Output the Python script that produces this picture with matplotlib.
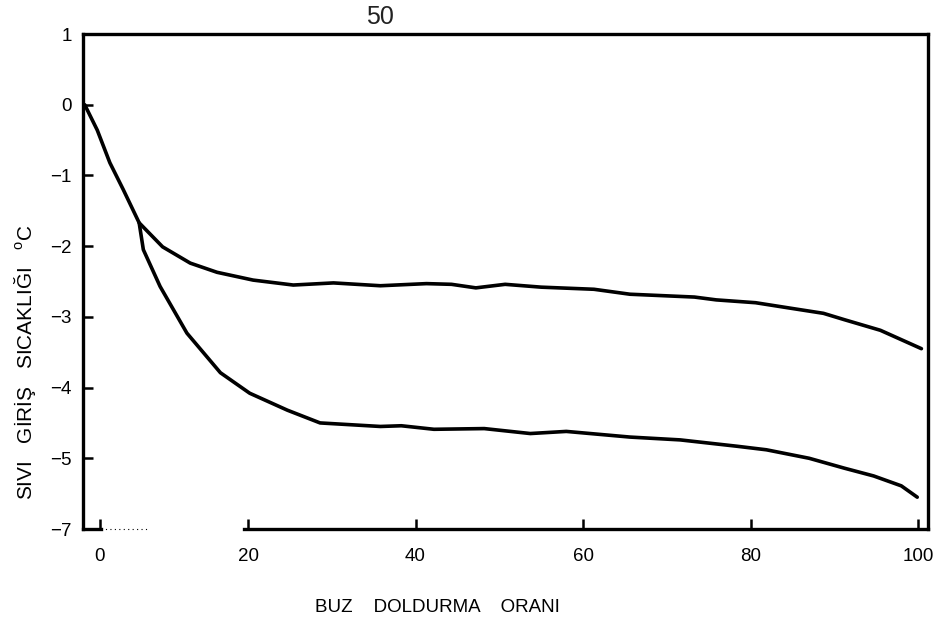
import matplotlib
matplotlib.use("Agg")
import matplotlib.pyplot as plt

plt.rcParams['font.family'] = ['Liberation Sans', 'DejaVu Sans']
plt.rcParams['mathtext.fontset'] = 'custom'
plt.rcParams['mathtext.rm'] = 'Liberation Sans'

# Upper curve (shared start, then levelling near -2.5 .. -3.45)
upper_x = [0.5, 2.0, 3.5, 5.1, 7.0, 9.8, 13.1, 16.3, 20.6, 25.4, 30.2, 35.8,
           41.3, 44.3, 47.2, 50.7, 55.0, 61.3, 65.6, 73.3, 75.9, 80.6, 84.9,
           88.7, 91.2, 95.5, 100.4]
upper_y = [0.0, -0.36, -0.82, -1.20, -1.67, -2.01, -2.24, -2.37, -2.48, -2.55,
           -2.52, -2.56, -2.53, -2.54, -2.59, -2.54, -2.58, -2.61, -2.68, -2.72,
           -2.76, -2.80, -2.88, -2.95, -3.04, -3.19, -3.45]

# Lower curve (branches off at the crossing point)
lower_x = [7.0, 7.5, 9.5, 12.7, 16.7, 20.2, 24.7, 28.6, 35.8, 38.3,
           42.2, 48.2, 53.7, 58.0, 65.6, 71.6, 78.4, 81.9, 87.0, 91.2, 94.7,
           98.0, 99.9]
lower_y = [-1.67, -2.05, -2.57, -3.23, -3.79, -4.08, -4.32, -4.50, -4.55, -4.54,
           -4.59, -4.58, -4.65, -4.62, -4.70, -4.74, -4.83, -4.88, -5.00, -5.14,
           -5.25, -5.39, -5.55]

x_tick_pos = [2.3, 20, 40, 60, 80, 100]
x_tick_labels = ['0', '20', '40', '60', '80', '100']
y_tick_pos = [1, 0, -1, -2, -3, -4, -5, -6]
y_tick_labels = ['1', '0', '\u22121', '\u22122', '\u22123', '\u22124', '\u22125', '\u22127']

xmin, xmax = 0.3, 101.2
ymin, ymax = -6.0, 1.0

fig = plt.figure(figsize=(9.49, 6.25), dpi=100)
ax = fig.add_axes([0.0875, 0.1536, 0.8905, 0.792])

ax.plot(upper_x, upper_y, color='black', lw=2.6, solid_capstyle='round',
        solid_joinstyle='round')
ax.plot(lower_x, lower_y, color='black', lw=2.6, solid_capstyle='round',
        solid_joinstyle='round')

ax.set_xlim(xmin, xmax)
ax.set_ylim(ymin, ymax)

for s in ['left', 'right', 'top']:
    ax.spines[s].set_linewidth(2.4)
ax.spines['bottom'].set_visible(False)
# broken bottom axis line as in the scan
ax.plot([xmin, 2.5], [ymin, ymin], color='black', lw=2.4, clip_on=False)
ax.plot([2.5, 8.0], [ymin, ymin], color='black', lw=0.8, ls=(0, (1, 3)), clip_on=False)
ax.plot([19.5, xmax], [ymin, ymin], color='black', lw=2.4, clip_on=False)

ax.set_xticks(x_tick_pos)
ax.set_xticklabels(x_tick_labels)
ax.set_yticks(y_tick_pos)
ax.set_yticklabels(y_tick_labels)
ax.tick_params(axis='both', direction='in', length=7, width=1.8, labelsize=13.5)
ax.tick_params(axis='x', pad=14)
ax.tick_params(axis='y', pad=8)

fig.text(0.026, 0.421, 'SIVI   GİRİŞ   SICAKLIĞI   $^{\\mathrm{o}}$C', rotation=90,
         fontsize=15, ha='center', va='center')

fig.text(0.461, 0.028, 'BUZ    DOLDURMA    ORANI', fontsize=13.5, ha='center', va='center')
fig.text(0.40, 0.973, '50', fontsize=18, ha='center', va='center', color='#222222')

fig.savefig('out.png', dpi=100)
